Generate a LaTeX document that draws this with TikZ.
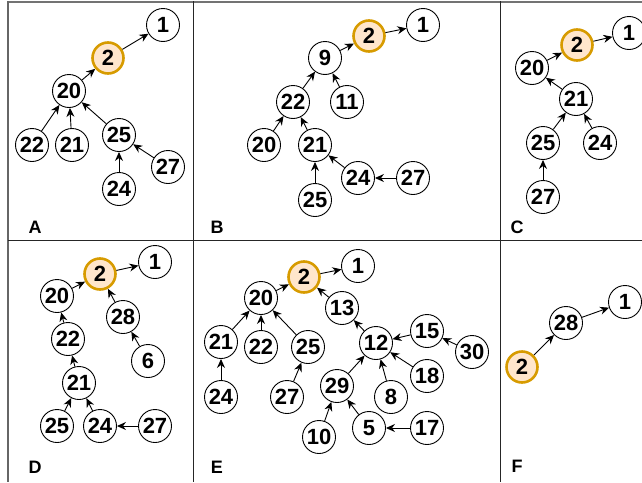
\documentclass[tikz,border=0pt]{standalone}
\usepackage{fontspec}
\setmainfont{Liberation Sans}
\usetikzlibrary{arrows.meta}
\definecolor{hlstroke}{HTML}{D79B00}
\definecolor{hlfill}{HTML}{FFE6CC}
\tikzset{
  vtx/.style={circle, draw=black, line width=0.9pt, fill=white, minimum size=33pt, inner sep=0pt,
    font=\fontsize{22}{22}\selectfont\bfseries},
  hl/.style={vtx, draw=hlstroke, fill=hlfill, line width=2.6pt, minimum size=31pt},
  edge/.style={-{Stealth[length=9pt,width=8pt]}, line width=0.9pt, black},
  plabel/.style={font=\fontsize{18}{18}\selectfont\bfseries, anchor=center},
  grid/.style={line width=1pt, black!85}
}
\begin{document}
\begin{tikzpicture}[x=1pt,y=-1pt]
\useasboundingbox (0,0) rectangle (642,482);
% frame
\draw[line width=2pt, black!55] (8,1.5) -- (642,1.5);
\draw[grid, black!60, line width=1.4pt] (8,1) -- (8,482);
\draw[grid] (193,1) -- (193,482);
\draw[grid] (500,1) -- (500,482);
\draw[grid] (8,240) -- (642,240);
% panel labels
\node[plabel] (la) at (35,227) {A};
\node[plabel] (lb) at (217,227) {B};
\node[plabel] (lc) at (517,227) {C};
\node[plabel] (ld) at (35,467) {D};
\node[plabel] (le) at (217,467) {E};
\node[plabel] (lf) at (517,466) {F};
% Panel A
\node[vtx] (a1) at (163,25) {1};
\node[hl] (a2) at (108,58) {2};
\node[vtx] (a20) at (69,91) {20};
\node[vtx] (a22) at (32,145) {22};
\node[vtx] (a21) at (72,145) {21};
\node[vtx] (a25) at (119,135) {25};
\node[vtx] (a27) at (168,167) {27};
\node[vtx] (a24) at (119,189) {24};
\draw[edge] (a2) -- (a1);
\draw[edge] (a20) -- (a2);
\draw[edge] (a22) -- (a20);
\draw[edge] (a21) -- (a20);
\draw[edge] (a25) -- (a20);
\draw[edge] (a24) -- (a25);
\draw[edge] (a27) -- (a25);
% Panel B
\node[vtx] (b1) at (423,25) {1};
\node[hl] (b2) at (369,36) {2};
\node[vtx] (b9) at (325,58) {9};
\node[vtx] (b22) at (293,102) {22};
\node[vtx] (b11) at (347,102) {11};
\node[vtx] (b20) at (264,145) {20};
\node[vtx] (b21) at (315,145) {21};
\node[vtx] (b24) at (358,178) {24};
\node[vtx] (b27) at (413,178) {27};
\node[vtx] (b25) at (315,200) {25};
\draw[edge] (b2) -- (b1);
\draw[edge] (b9) -- (b2);
\draw[edge] (b22) -- (b9);
\draw[edge] (b11) -- (b9);
\draw[edge] (b20) -- (b22);
\draw[edge] (b21) -- (b22);
\draw[edge] (b25) -- (b21);
\draw[edge] (b24) -- (b21);
\draw[edge] (b27) -- (b24);
% Panel C
\node[vtx] (c1) at (629,33) {1};
\node[hl] (c2) at (577,45) {2};
\node[vtx] (c20) at (532,68) {20};
\node[vtx] (c21) at (576,99) {21};
\node[vtx] (c25) at (543,143) {25};
\node[vtx] (c24) at (600,143) {24};
\node[vtx] (c27) at (543,197) {27};
\draw[edge] (c2) -- (c1);
\draw[edge] (c20) -- (c2);
\draw[edge] (c21) -- (c20);
\draw[edge] (c25) -- (c21);
\draw[edge] (c24) -- (c21);
\draw[edge] (c27) -- (c25);
% Panel D
\node[vtx] (d1) at (155,262) {1};
\node[hl] (d2) at (100,274) {2};
\node[vtx] (d20) at (57,296) {20};
\node[vtx] (d28) at (123,317) {28};
\node[vtx] (d22) at (68,339) {22};
\node[vtx] (d6) at (148,361) {6};
\node[vtx] (d21) at (79,383) {21};
\node[vtx] (d25) at (57,426) {25};
\node[vtx] (d24) at (100,426) {24};
\node[vtx] (d27) at (155,426) {27};
\draw[edge] (d2) -- (d1);
\draw[edge] (d20) -- (d2);
\draw[edge] (d28) -- (d2);
\draw[edge] (d22) -- (d20);
\draw[edge] (d6) -- (d28);
\draw[edge] (d21) -- (d22);
\draw[edge] (d25) -- (d21);
\draw[edge] (d24) -- (d21);
\draw[edge] (d27) -- (d24);
% Panel E
\node[vtx] (e1) at (358,266) {1};
\node[hl] (e2) at (304,277) {2};
\node[vtx] (e20) at (261,298) {20};
\node[vtx] (e13) at (342,308) {13};
\node[vtx] (e21) at (221,342) {21};
\node[vtx] (e22) at (261,347) {22};
\node[vtx] (e25) at (308,347) {25};
\node[vtx] (e12) at (376,343) {12};
\node[vtx] (e15) at (427,331) {15};
\node[vtx] (e30) at (472,352) {30};
\node[vtx] (e18) at (427,376) {18};
\node[vtx] (e8) at (391,397) {8};
\node[vtx] (e29) at (337,386) {29};
\node[vtx] (e24) at (221,397) {24};
\node[vtx] (e27) at (287,397) {27};
\node[vtx] (e10) at (319,437) {10};
\node[vtx] (e5) at (369,428) {5};
\node[vtx] (e17) at (427,428) {17};
\draw[edge] (e2) -- (e1);
\draw[edge] (e20) -- (e2);
\draw[edge] (e13) -- (e2);
\draw[edge] (e21) -- (e20);
\draw[edge] (e22) -- (e20);
\draw[edge] (e25) -- (e20);
\draw[edge] (e24) -- (e21);
\draw[edge] (e27) -- (e25);
\draw[edge] (e12) -- (e13);
\draw[edge] (e15) -- (e12);
\draw[edge] (e30) -- (e15);
\draw[edge] (e18) -- (e12);
\draw[edge] (e8) -- (e12);
\draw[edge] (e29) -- (e12);
\draw[edge] (e10) -- (e29);
\draw[edge] (e5) -- (e29);
\draw[edge] (e17) -- (e5);
% Panel F
\node[vtx] (f1) at (625,302) {1};
\node[vtx] (f28) at (566,323) {28};
\node[hl] (f2) at (522,367) {2};
\draw[edge] (f2) -- (f28);
\draw[edge] (f28) -- (f1);
\end{tikzpicture}
\end{document}
